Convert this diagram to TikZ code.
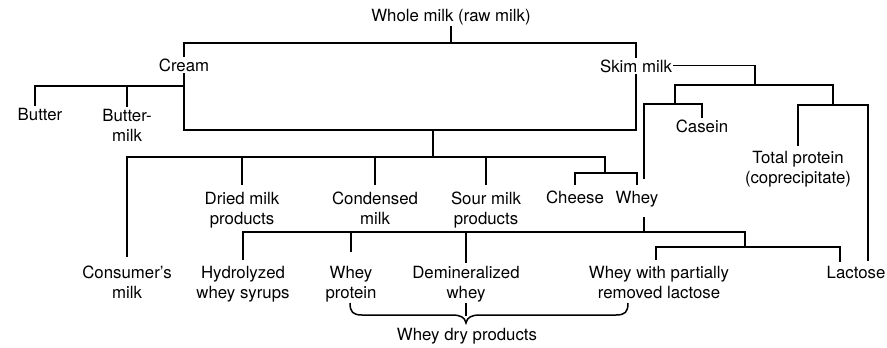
\documentclass[tikz,border=0pt]{standalone}
\usepackage{fontspec}
\setmainfont{TeX Gyre Heros}
\begin{document}
\begin{tikzpicture}[x=1pt,y=-1pt,
  lbl/.style={font=\fontsize{16.8}{20}\selectfont, align=center, inner sep=0pt, outer sep=2pt, anchor=base},
  conn/.style={line width=1.1pt, line cap=rect},
  bracepath/.style={line width=1.5pt}]
\useasboundingbox (0,0) rectangle (887,348);
% labels (anchor=base is the baseline of the last line)
\node[lbl] (whole) at (451,21) {Whole milk (raw milk)};
\node[lbl] (cream) at (184,71) {Cream};
\node[lbl] (skim) at (636,72) {Skim milk};
\node[lbl] (butter) at (40,120) {Butter};
\node[lbl] (bmilk) at (127,141) {Butter-\\milk};
\node[lbl] (casein) at (702,132) {Casein};
\node[lbl] (totalp) at (798,183) {Total protein\\(coprecipitate)};
\node[lbl] (consumer) at (127,298) {Consumer's\\milk};
\node[lbl] (dried) at (242,224) {Dried milk\\products};
\node[lbl] (condensed) at (375,224) {Condensed\\milk};
\node[lbl] (sour) at (486,224) {Sour milk\\products};
\node[lbl] (cheese) at (575,203) {Cheese};
\node[lbl] (whey) at (637,203) {Whey};
\node[lbl] (hydro) at (243,298) {Hydrolyzed\\whey syrups};
\node[lbl] (wprot) at (351,298) {Whey\\protein};
\node[lbl] (demin) at (466,298) {Demineralized\\whey};
\node[lbl] (wpart) at (659,298) {Whey with partially\\removed lactose};
\node[lbl] (lactose) at (856,278) {Lactose};
\node[lbl] (wdry) at (467,340) {Whey dry products};
% junctions
\coordinate (j0) at (451,43);
\coordinate (j1) at (433,130);
\coordinate (j2) at (433,157);
\coordinate (jc) at (184,86);
\coordinate (js) at (755,85);
\coordinate (jk) at (675,104);
\coordinate (jt) at (833,105);
\coordinate (jw) at (605,173);
\coordinate (wa) at (644,178);
\coordinate (wb) at (644,218);
\coordinate (jb) at (644,232);
\coordinate (jl) at (745,247);
\coordinate (bt) at (466,315);
\coordinate (bl) at (350,303);
\coordinate (br) at (628,303);
% connectors
\draw[conn] (whole.south) -- (j0);
\draw[conn] (cream.north) |- (j0) -| (skim.north);
\draw[conn] (cream.south) |- (j1) -| (skim.south);
\draw[conn] ([xshift=-5pt]butter.north) |- (jc);
\draw[conn] (bmilk.north) -- (bmilk.north |- jc);
\draw[conn] (j1) -- (j2);
\draw[conn] (skim.east) -| (js);
\draw[conn] (jk) |- (js) -| (jt);
\draw[conn] (wa) |- (jk) -| (casein.north);
\draw[conn] ([yshift=3pt]totalp.north) |- (jt) -| ([xshift=12pt,yshift=3pt]lactose.north);
\draw[conn] ([yshift=7pt]consumer.north) |- (j2) -| (jw);
\draw[conn] ([yshift=5pt]dried.north) -- (dried.north |- j2);
\draw[conn] ([yshift=5pt]condensed.north) -- (condensed.north |- j2);
\draw[conn] ([yshift=5pt]sour.north) -- (sour.north |- j2);
\draw[conn] ([yshift=4pt]cheese.north) |- (jw) -| ([yshift=4pt]whey.north);
\draw[conn] (wb) -- (jb);
\draw[conn] ([yshift=4pt]hydro.north) |- (jb) -| (jl);
\draw[conn] ([yshift=12pt]wprot.north) -- (wprot.north |- jb);
\draw[conn] ([yshift=1pt]demin.north) -- (demin.north |- jb);
\draw[conn] ([xshift=-3pt,yshift=4pt]wpart.north) |- (jl) -| ([xshift=-16pt,yshift=2pt]lactose.north);
% brace
\draw[conn] (demin.south) -- (bt);
\draw[bracepath] (bl) .. controls (350,312) and (353,315) .. (362,315) -- (452,315)
  .. controls (460,315) and (465,317) .. (466,323)
  .. controls (467,317) and (472,315) .. (480,315) -- (616,315)
  .. controls (625,315) and (628,312) .. (br);
\end{tikzpicture}
\end{document}
